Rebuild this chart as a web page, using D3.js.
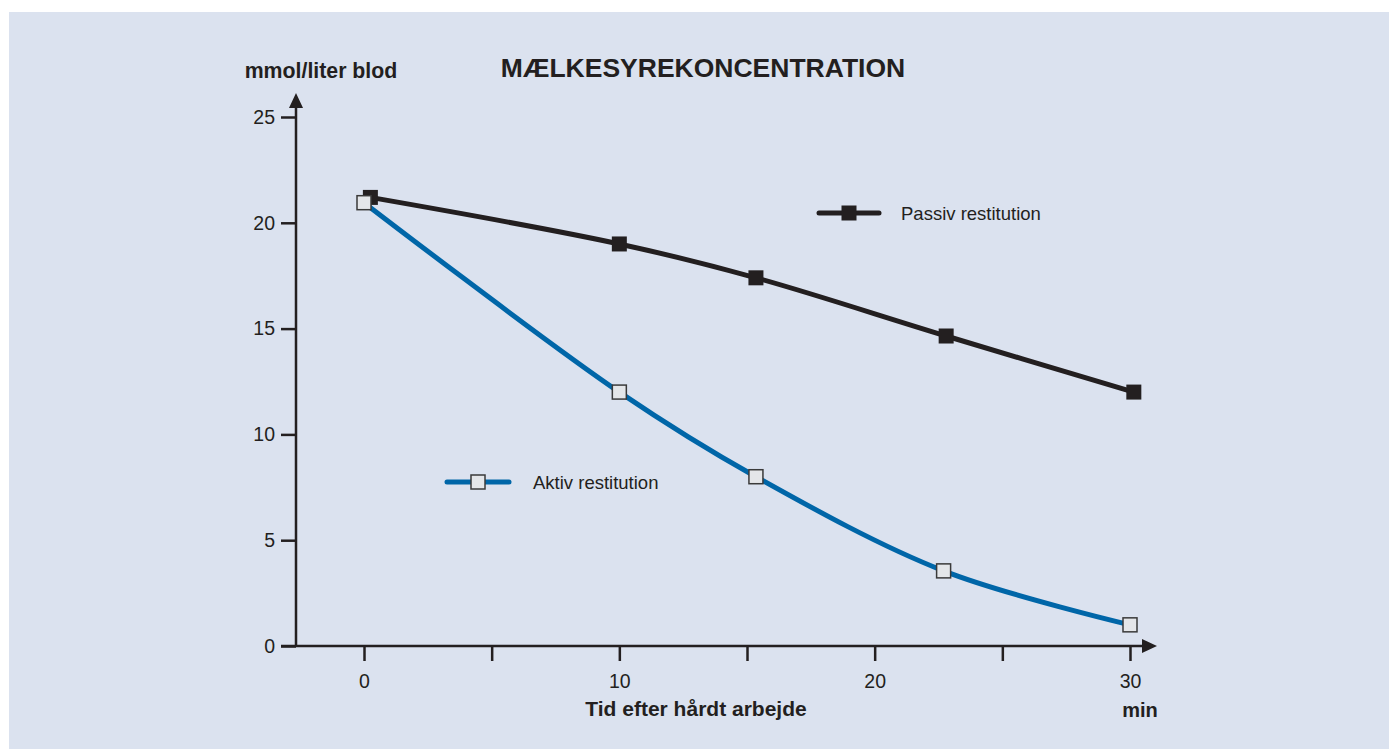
<!DOCTYPE html>
<html>
<head>
<meta charset="utf-8">
<script src="https://cdn.jsdelivr.net/npm/d3@7"></script>
<style>
  html, body { margin: 0; padding: 0; background: #ffffff; }
  svg { display: block; font-family: "Liberation Sans", Arial, Helvetica, sans-serif; }
</style>
</head>
<body>
<svg id="chart" width="1389" height="749"></svg>
<script>
// Lactic acid concentration after hard work (mmol/liter blod)
const passivTime   = [0.25, 10, 15.35, 22.8, 30.15];
const passivValues = [21.2, 19.0, 17.4, 14.65, 12.0];
const aktivTime    = [0, 10, 15.35, 22.7, 30];
const aktivValues  = [20.95, 12.0, 8.0, 3.55, 1.0];

const xTicks = [0, 5, 10, 15, 20, 25, 30];
const xTickLabels = ["0", "", "10", "", "20", "", "30"];
const yTicks = [0, 5, 10, 15, 20, 25];

const seriesNames = ["Passiv restitution", "Aktiv restitution"];
const title = "MÆLKESYREKONCENTRATION";
const yTitle = "mmol/liter blod";
const xTitle = "Tid efter hårdt arbejde";
const xUnit = "min";

const ink = "#231f20";
const blue = "#0066a8";
const panel = "#dbe2ef";

const svg = d3.select("#chart");

svg.append("rect")
  .attr("x", 9).attr("y", 12)
  .attr("width", 1389 - 9).attr("height", 749 - 12)
  .attr("fill", panel);

const x = d3.scaleLinear().domain([0, 30]).range([364, 1130]);
const y = d3.scaleLinear().domain([0, 25]).range([646, 117]);
const axisX = 296;

// Y axis
const yAxis = d3.axisLeft(y).tickValues(yTicks).tickSize(15).tickPadding(6).tickSizeOuter(0);
const gy = svg.append("g").attr("transform", `translate(${axisX},0)`).call(yAxis);
gy.select(".domain").remove();
gy.selectAll(".tick line").attr("stroke", ink).attr("stroke-width", 2.5);
gy.selectAll(".tick text").attr("fill", ink).attr("font-size", 19.5)
  .attr("font-family", "Liberation Sans, Arial, sans-serif");
svg.append("line")
  .attr("x1", axisX).attr("x2", axisX)
  .attr("y1", y(0)).attr("y2", 106)
  .attr("stroke", ink).attr("stroke-width", 2.5);
svg.append("path")
  .attr("d", `M${axisX - 7},108 L${axisX},93 L${axisX + 7},108 Z`)
  .attr("fill", ink);

// X axis
const xAxis = d3.axisBottom(x).tickValues(xTicks)
  .tickFormat((d, i) => xTickLabels[i]).tickSize(15).tickPadding(13).tickSizeOuter(0);
const gx = svg.append("g").attr("transform", `translate(0,${y(0)})`).call(xAxis);
gx.select(".domain").remove();
gx.selectAll(".tick line").attr("stroke", ink).attr("stroke-width", 2.5);
gx.selectAll(".tick text").attr("fill", ink).attr("font-size", 19.5)
  .attr("font-family", "Liberation Sans, Arial, sans-serif");
svg.append("line")
  .attr("x1", 281).attr("x2", 1144)
  .attr("y1", y(0)).attr("y2", y(0))
  .attr("stroke", ink).attr("stroke-width", 2.5);
svg.append("path")
  .attr("d", `M1142,${y(0) - 7} L1157,${y(0)} L1142,${y(0) + 7} Z`)
  .attr("fill", ink);

// Titles
svg.append("text").attr("x", 703).attr("y", 77)
  .attr("text-anchor", "middle").attr("font-weight", "bold").attr("font-size", 26.5)
  .attr("fill", ink).text(title);
svg.append("text").attr("x", 321).attr("y", 78)
  .attr("text-anchor", "middle").attr("font-weight", "bold").attr("font-size", 21.3)
  .attr("fill", ink).text(yTitle);
svg.append("text").attr("x", 696).attr("y", 716)
  .attr("text-anchor", "middle").attr("font-weight", "bold").attr("font-size", 21)
  .attr("fill", ink).text(xTitle);
svg.append("text").attr("x", 1140).attr("y", 717)
  .attr("text-anchor", "middle").attr("font-weight", "bold").attr("font-size", 20)
  .attr("fill", ink).text(xUnit);

// Series
const line = d3.line()
  .x(d => x(d[0])).y(d => y(d[1]))
  .curve(d3.curveCatmullRom.alpha(0.5));

const passiv = passivTime.map((t, i) => [t, passivValues[i]]);
const aktiv = aktivTime.map((t, i) => [t, aktivValues[i]]);

svg.append("path").datum(passiv).attr("d", line)
  .attr("fill", "none").attr("stroke", ink).attr("stroke-width", 5)
  .attr("stroke-linecap", "round");
svg.append("path").datum(aktiv).attr("d", line)
  .attr("fill", "none").attr("stroke", blue).attr("stroke-width", 5)
  .attr("stroke-linecap", "round");

const sq = 15;
svg.append("g").selectAll("rect").data(passiv).join("rect")
  .attr("x", d => x(d[0]) - sq / 2).attr("y", d => y(d[1]) - sq / 2)
  .attr("width", sq).attr("height", sq).attr("fill", ink);
svg.append("g").selectAll("rect").data(aktiv).join("rect")
  .attr("x", d => x(d[0]) - sq / 2 + 0.5).attr("y", d => y(d[1]) - sq / 2 + 0.5)
  .attr("width", sq - 1).attr("height", sq - 1)
  .attr("fill", "#e4e6e9").attr("stroke", "#3a3a3a").attr("stroke-width", 1.5);

// Legends
function legend(x1, x2, cy, color, filled, label, tx) {
  svg.append("line").attr("x1", x1).attr("x2", x2).attr("y1", cy).attr("y2", cy)
    .attr("stroke", color).attr("stroke-width", 5).attr("stroke-linecap", "round");
  const cx = (x1 + x2) / 2;
  if (filled) {
    svg.append("rect").attr("x", cx - sq / 2).attr("y", cy - sq / 2)
      .attr("width", sq).attr("height", sq).attr("fill", ink);
  } else {
    svg.append("rect").attr("x", cx - sq / 2 + 0.5).attr("y", cy - sq / 2 + 0.5)
      .attr("width", sq - 1).attr("height", sq - 1)
      .attr("fill", "#e4e6e9").attr("stroke", "#3a3a3a").attr("stroke-width", 1.5);
  }
  svg.append("text").attr("x", tx).attr("y", cy + 6.5)
    .attr("font-size", 18.5).attr("fill", ink).text(label);
}
legend(819, 879, 213, ink, true, seriesNames[0], 901);
legend(447, 509, 482, blue, false, seriesNames[1], 533);
</script>
</body>
</html>
